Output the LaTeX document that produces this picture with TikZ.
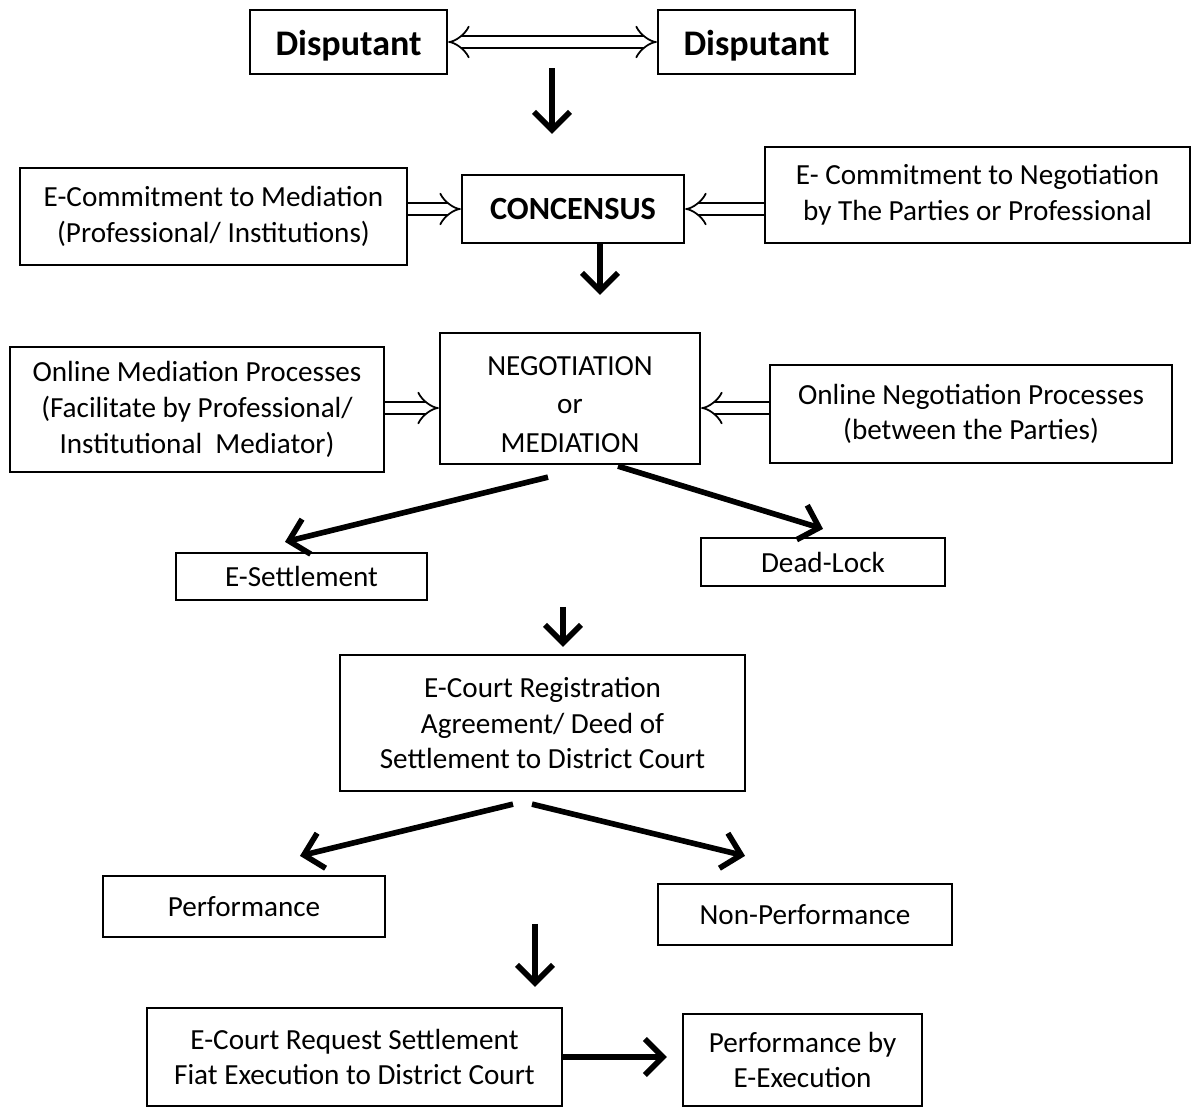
\documentclass[tikz,border=0pt]{standalone}
\usepackage{fontspec}
\setmainfont{Carlito}
\usetikzlibrary{arrows.meta}
\tikzset{
  box/.style={draw, line width=1.3pt, align=center, inner sep=0pt,
    font=\fontsize{16.6pt}{20.3pt}\selectfont},
  arr/.style={line width=3.2pt, -{Straight Barb[length=3.6mm,width=7.2mm]}},
  dbl/.style={double, double distance=5.6pt, line width=1pt, -{Implies}}
}

\begin{document}
\begin{tikzpicture}[x=0.02cm, y=-0.02cm]
      \useasboundingbox (0,0) rectangle (1195,1107);
      %disputants
      \node[box, minimum width=3.94cm, minimum height=1.28cm, text height=0.55cm, text depth=0pt, font=\fontsize{20.5pt}{24pt}\selectfont\bfseries] (d1) at (348.5,42) {Disputant};
      \node[box, minimum width=3.94cm, minimum height=1.28cm, text height=0.55cm, text depth=0pt, font=\fontsize{20.5pt}{24pt}\selectfont\bfseries] (d2) at (756.5,42) {Disputant};
      \draw [dbl, {Implies}-{Implies}] (d1.east) -- (d2.west);
      \coordinate (split) at (552,68);
      %consensus row
      \node[box, minimum width=7.74cm, minimum height=1.94cm] (l1) at (213.5,216.5) {E-Commitment to Mediation\\(Professional/ Institutions)};
      \node[box, minimum width=4.44cm, minimum height=1.36cm, font=\fontsize{18.4pt}{22pt}\selectfont\bfseries] (con) at (573,209) {CONCENSUS};
      \node[box, minimum width=8.5cm, minimum height=1.92cm] (r1) at (977.5,195) {E- Commitment to Negotiation\\by The Parties or Professional};
      \draw [arr, shorten >=0.8cm] (split) -- (split |- con.north);
      \draw [dbl] (l1.east |- con.west) -- (con.west);
      \draw [dbl] (r1.west |- con.east) -- (con.east);
      %negotiation row
      \node[box, minimum width=7.48cm, minimum height=2.5cm] (l2) at (197,409.5) {Online Mediation Processes\\(Facilitate by Professional/\\Institutional\ \ Mediator)};
      \node[box, minimum width=5.2cm, minimum height=2.62cm, text height=2.15cm, text depth=0pt, font=\fontsize{16.6pt}{21.8pt}\selectfont] (neg) at (570,398.5) {NEGOTIATION\\or\\MEDIATION};
      \node[box, minimum width=8.04cm, minimum height=1.96cm] (r2) at (971,414) {Online Negotiation Processes\\(between the Parties)};
      \draw [arr, shorten >=0.74cm] ([xshift=0.54cm]con.south) -- ([xshift=0.54cm]con.south |- neg.north);
      \draw [dbl] (l2.east |- 0,408) -- (neg.west |- 0,408);
      \draw [dbl] (r2.west |- 0,408) -- (neg.east |- 0,408);
      %outcomes
      \node[box, minimum width=5.02cm, minimum height=0.94cm] (set) at (301.5,576.5) {E-Settlement};
      \node[box, minimum width=4.88cm, minimum height=0.96cm] (dead) at (823,562) {Dead-Lock};
      \draw [arr] ([xshift=-0.44cm,yshift=-0.24cm]neg.south) -- ([xshift=-0.33cm,yshift=0.2cm]set.north);
      \draw [arr] ([xshift=0.96cm,yshift=-0.02cm]neg.south) -- ([yshift=0.16cm]dead.north);
      %registration
      \node[box, minimum width=8.1cm, minimum height=2.72cm] (ecr) at (542.5,723) {E-Court Registration\\Agreement/ Deed of\\Settlement to District Court};
      \draw [arr] ([xshift=0.41cm,yshift=0.94cm]ecr.north) -- ([xshift=0.41cm,yshift=0.14cm]ecr.north);
      \node[box, minimum width=5.64cm, minimum height=1.22cm] (perf) at (244,906.5) {Performance};
      \node[box, minimum width=5.88cm, minimum height=1.22cm] (nonp) at (805,914.5) {Non-Performance};
      \draw [arr] ([xshift=-0.59cm,yshift=-0.24cm]ecr.south) -- ([xshift=1.12cm,yshift=0.38cm]perf.north);
      \draw [arr] ([xshift=-0.21cm,yshift=-0.24cm]ecr.south) -- ([xshift=-1.2cm,yshift=0.54cm]nonp.north);
      %execution
      \node[box, minimum width=8.3cm, minimum height=1.96cm] (ecrs) at (354.5,1057) {E-Court Request Settlement\\Fiat Execution to District Court};
      \node[box, minimum width=4.78cm, minimum height=1.84cm] (pbe) at (802.5,1060) {Performance by\\E-Execution};
      \draw [arr] ([xshift=3.61cm,yshift=1.66cm]ecrs.north) -- ([xshift=3.61cm,yshift=0.4cm]ecrs.north);
      \draw [arr, shorten >=0.3cm] (ecrs.east) -- (ecrs.east -| pbe.west);
\end{tikzpicture}
\end{document}
